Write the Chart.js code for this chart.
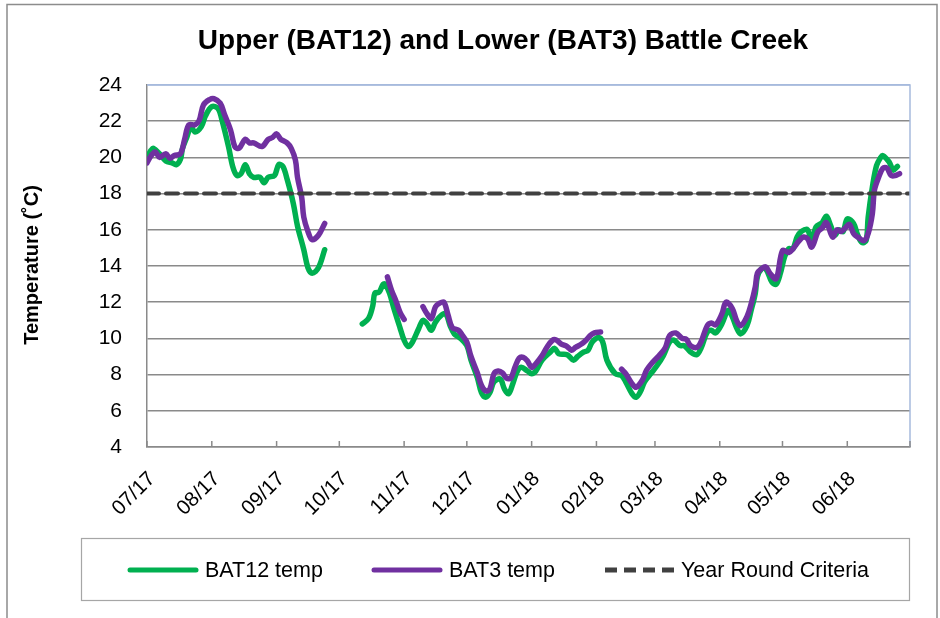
<!DOCTYPE html>
<html><head><meta charset="utf-8">
<script src="https://cdn.jsdelivr.net/npm/chart.js@4/dist/chart.umd.min.js"></script>
<style>html,body{margin:0;padding:0;background:#fff}#wrap{width:940px;height:618px;position:relative}</style>
</head><body><div id="wrap"><canvas id="c" width="940" height="618"></canvas></div>
<script>
// ---- data (x = days since 07/01/2017) ----
const titleText = 'Upper (BAT12) and Lower (BAT3) Battle Creek';
const yAxisTitle = 'Temperature (˚C)';
const monthLabels = ['07/17','08/17','09/17','10/17','11/17','12/17','01/18','02/18','03/18','04/18','05/18','06/18'];
const seriesNames = ['BAT12 temp','BAT3 temp','Year Round Criteria'];
const criteriaTemp = 18;
const yMin = 4, yMax = 24, yStep = 2;

const bat12Days = [0,2,3,6,9,12,14,16,17,19,21,23,26,28,31,34,36,39,41,43,45,47,49,51,54,56,58,61,63,65,67,70,72,75,77,79,82,85,
  94,
  103,106,108,109,111,113,114,116,118,121,123,125,127,130,132,134,136,138,141,143,145,147,150,153,155,158,160,162,164,166,169,171,173,175,177,179,182,184,186,189,193,195,197,201,204,206,209,211,213,216,218,220,224,227,229,232,234,236,238,241,244,247,250,252,255,257,260,263,265,268,270,272,275,278,280,282,284,287,289,291,292,294,296,299,301,303,305,307,309,311,313,316,318,320,323,325,327,329,331,333,335,338,340,342,344,345,347,349,351,352,355,357,359];
const bat12Temps = [20.0,20.4,20.5,20.2,19.8,19.7,19.6,19.9,20.5,21.1,21.7,21.4,21.7,22.3,22.8,22.7,22.0,20.6,19.5,19.0,19.1,19.6,19.1,18.9,18.9,18.6,18.9,19.0,19.6,19.5,18.8,17.45,16.2,14.9,13.9,13.6,13.9,14.9,
  null,
  10.8,11.1,11.8,12.5,12.55,13.0,13.0,12.5,11.7,10.6,9.9,9.55,9.8,10.55,11.0,10.8,10.45,10.9,11.3,11.35,10.7,10.25,10.0,9.6,8.8,7.85,7.0,6.75,7.0,7.6,7.75,7.2,6.95,7.5,8.15,8.4,8.2,8.05,8.2,8.8,9.25,9.45,9.15,9.1,8.8,9.0,9.25,9.35,9.8,10.05,9.8,8.8,8.05,7.95,7.6,6.95,6.75,7.05,7.6,8.05,8.5,9.05,9.8,9.9,9.6,9.6,9.25,9.1,9.45,10.35,10.45,10.3,10.8,11.55,11.2,10.6,10.25,10.7,11.55,12.5,13.4,13.85,13.85,13.1,13.0,13.6,14.5,14.95,14.95,15.6,15.9,16.0,15.3,16.15,16.4,16.75,16.25,15.7,16.0,15.9,16.6,16.35,15.7,15.3,15.4,16.7,18.35,19.55,20.0,20.1,19.75,19.3,19.5];

const bat3Days = [0,2,4,6,9,11,13,16,18,20,23,25,27,30,32,35,37,40,42,44,47,49,51,55,58,60,62,64,67,69,71,72,74,75,77,79,82,85,
  100,
  115,117,119,121,123,
  128,
  132,134,136,138,140,142,144,146,149,151,153,155,158,160,162,164,166,168,170,172,174,176,178,180,182,184,186,189,191,194,196,198,201,203,205,208,210,212,214,217,
  222,
  227,229,232,234,237,239,242,245,248,250,253,256,258,260,263,265,268,270,272,275,277,280,282,284,287,289,291,292,294,296,298,301,304,307,309,312,314,316,318,321,323,325,328,330,332,334,336,338,340,343,345,347,348,350,352,354,356,358,360];
const bat3Temps = [19.7,20.1,20.3,20.0,20.2,19.95,20.1,20.2,21.0,21.8,21.8,22.05,22.9,23.2,23.25,23.0,22.4,21.5,20.6,20.5,21.0,20.8,20.8,20.6,21.0,21.1,21.3,21.0,20.8,20.5,19.85,18.9,17.8,16.7,15.9,15.45,15.7,16.35,
  null,
  13.4,12.65,12.1,11.45,11.05,
  null,
  11.75,11.35,11.1,11.75,11.95,12.0,11.3,10.6,10.45,10.15,9.8,9.0,8.1,7.4,7.1,7.2,8.05,8.2,8.1,7.8,7.8,8.4,8.9,8.95,8.75,8.4,8.6,9.05,9.45,9.9,9.9,9.7,9.55,9.35,9.5,9.7,9.9,10.15,10.3,10.35,
  null,
  8.3,8.05,7.5,7.3,7.7,8.25,8.7,9.05,9.5,10.15,10.3,10.0,9.95,9.6,9.5,9.8,10.7,10.85,10.75,11.35,12.0,11.65,11.0,10.7,11.2,11.9,12.85,13.6,13.85,13.95,13.6,13.3,14.85,14.75,14.95,15.4,15.6,15.5,15.05,15.9,16.1,16.4,15.6,16.0,15.9,16.1,16.3,15.8,15.6,15.4,15.8,16.9,18.2,18.9,19.4,19.4,19.0,19.0,19.1];

// ---- derived ----
const DAY = 86400000, start = Date.UTC(2017, 6, 1);
const monthDays = [];
for (let i = 0; i <= 12; i++) monthDays.push((Date.UTC(2017, 6 + i, 1) - start) / DAY);
const xMax = monthDays[12];
const toPts = (d, t) => d.map((x, i) => ({x: x, y: t[i]}));

const FONT = "'Liberation Sans', Arial, sans-serif";
const GREEN = '#00B050', PURPLE = '#7030A0', DASH = '#404040', GRID = '#8a8a8a', BLUE = '#a7bbdd';

const decor = {
  id: 'decor',
  afterDraw(chart) {
    const ctx = chart.ctx, a = chart.chartArea, xs = chart.scales.x;
    ctx.save();
    // outer frame
    ctx.strokeStyle = '#8c8c8c'; ctx.lineWidth = 1.5;
    ctx.strokeRect(7, 4.5, 930, 640);
    // plot border top/right
    ctx.strokeStyle = BLUE; ctx.lineWidth = 1.5;
    ctx.beginPath(); ctx.moveTo(a.left, a.top); ctx.lineTo(a.right, a.top); ctx.lineTo(a.right, a.bottom); ctx.stroke();
    // x tick marks (inside)
    ctx.strokeStyle = GRID; ctx.lineWidth = 1.5;
    monthDays.forEach(d => {
      const px = xs.getPixelForValue(d);
      ctx.beginPath(); ctx.moveTo(px, a.bottom); ctx.lineTo(px, a.bottom - 6); ctx.stroke();
    });
    // title
    ctx.fillStyle = '#000'; ctx.textAlign = 'center'; ctx.textBaseline = 'alphabetic';
    ctx.font = "bold 28px " + FONT;
    ctx.fillText(titleText, 503, 49);
    // y title
    ctx.save(); ctx.translate(32, 265); ctx.rotate(-Math.PI / 2);
    ctx.font = "bold 20px " + FONT; ctx.textBaseline = 'middle';
    ctx.fillText(yAxisTitle, 0, 0); ctx.restore();
    // legend box
    ctx.strokeStyle = '#a6a6a6'; ctx.lineWidth = 1.2;
    ctx.strokeRect(81.5, 538.5, 828, 62);
    const ds = chart.data.datasets;
    const items = [[128, 205], [372, 449], [605, 681]];
    ctx.font = "21.5px " + FONT; ctx.textAlign = 'left'; ctx.textBaseline = 'middle';
    items.forEach((it, i) => {
      const d = ds[i];
      ctx.save();
      ctx.strokeStyle = d.borderColor; ctx.lineWidth = 5;
      ctx.lineCap = i === 2 ? 'butt' : 'round';
      ctx.setLineDash(i === 2 ? [12, 7] : []);
      ctx.beginPath(); ctx.moveTo(it[0] + (i === 2 ? 0 : 2), 570); ctx.lineTo(it[0] + 70 - (i === 2 ? 0 : 2), 570); ctx.stroke();
      ctx.restore();
      ctx.fillStyle = '#000';
      ctx.fillText(d.label, it[1], 571);
    });
    ctx.restore();
  }
};

new Chart(document.getElementById('c'), {
  type: 'line',
  data: {
    datasets: [
      {label: seriesNames[0], data: toPts(bat12Days, bat12Temps), borderColor: GREEN, backgroundColor: GREEN, borderWidth: 5.5, order: 3},
      {label: seriesNames[1], data: toPts(bat3Days, bat3Temps), borderColor: PURPLE, backgroundColor: PURPLE, borderWidth: 5.5, order: 2},
      {label: seriesNames[2], data: [{x: 0, y: criteriaTemp}, {x: xMax, y: criteriaTemp}], borderColor: DASH, backgroundColor: DASH, borderWidth: 4, borderDash: [12, 7], tension: 0, order: 1}
    ]
  },
  options: {
    responsive: false, animation: false, devicePixelRatio: 1,
    layout: {padding: {top: 85, right: 30, left: 0, bottom: 0}},
    elements: {point: {radius: 0, hoverRadius: 0}, line: {tension: 0.35, borderCapStyle: 'round', borderJoinStyle: 'round', spanGaps: false}},
    plugins: {legend: {display: false}, title: {display: false}, tooltip: {enabled: false}},
    scales: {
      x: {
        type: 'linear', min: 0, max: xMax,
        afterBuildTicks: s => { s.ticks = monthDays.slice(0, 12).map(v => ({value: v})); },
        afterFit: s => { s.height = 171; },
        grid: {display: false},
        border: {display: true, color: GRID, width: 1.5},
        ticks: {autoSkip: false, minRotation: 45, maxRotation: 45, padding: 12, labelOffset: 5, color: '#000',
          font: {family: FONT, size: 20.5},
          callback: (v, i) => monthLabels[i]}
      },
      y: {
        min: yMin, max: yMax,
        afterFit: s => { s.width = 147; },
        grid: {drawTicks: false, lineWidth: 1.5, color: c => c.tick && c.tick.value === yMax ? BLUE : GRID},
        border: {display: true, color: GRID, width: 1.5},
        ticks: {stepSize: yStep, padding: 25, color: '#000', font: {family: FONT, size: 21}}
      }
    }
  },
  plugins: [decor]
});
</script></body></html>
